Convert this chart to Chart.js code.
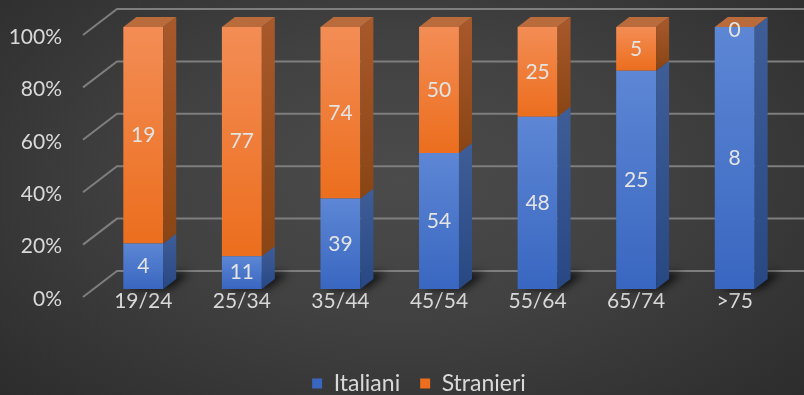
<!DOCTYPE html>
<html><head><meta charset="utf-8">
<script src="https://cdn.jsdelivr.net/npm/chart.js@4/dist/chart.umd.min.js"></script>
<style>
html,body{margin:0;padding:0;}
body{width:804px;height:395px;overflow:hidden;background:radial-gradient(ellipse 70% 80% at 50% 45%, #4b4b4b 0%, #414141 45%, #2c2c2c 100%);}
#wrap{position:relative;width:804px;height:395px;}
</style></head><body>
<div id="wrap"><canvas id="c" width="804" height="395"></canvas></div>
<script>
const categories = ['19/24','25/34','35/44','45/54','55/64','65/74','>75'];
const italiani = [4, 11, 39, 54, 48, 25, 8];
const stranieri = [19, 77, 74, 50, 25, 5, 0];
const yTicks = [0, 20, 40, 60, 80, 100];

const totals = categories.map((_, i) => italiani[i] + stranieri[i]);
const pctIt = italiani.map((v, i) => v / totals[i] * 100);
const pctSt = stranieri.map((v, i) => v / totals[i] * 100);
const counts = [italiani, stranieri];

const DX = 13, DY = 10;       // bar depth
const WX = 34, WY = 26;       // wall depth
const FRONT = 8;              // front plane below bar plane
const LEGEND_SHIFT = 27;
const FONT = 'Lato, "Open Sans", sans-serif';

const FRONT_COL = [['#5d87d5', '#3966c0'], ['#f38d55', '#ec6e1e']];
const SIDE_COL  = [['#3f5e98', '#284884'], ['#a9592b', '#8a4514']];
const TOP_COL   = ['#4a70b8', '#b96b3c'];

function segGrad(ctx, t, b, cols) {
  if (!(b - t > 0.01)) return cols[1];
  const g = ctx.createLinearGradient(0, t, 0, b);
  g.addColorStop(0, cols[0]); g.addColorStop(1, cols[1]); return g;
}
function frontColor(d) {
  return c => {
    const ch = c.chart, y = ch.scales && ch.scales.y;
    if (!y || !ch.chartArea || c.dataIndex === undefined) return FRONT_COL[d][1];
    const i = c.dataIndex;
    const lo = d === 0 ? 0 : pctIt[i], hi = d === 0 ? pctIt[i] : 100;
    return segGrad(ch.ctx, y.getPixelForValue(hi), y.getPixelForValue(lo), FRONT_COL[d]);
  };
}

const threeD = {
  id: 'threeD',
  afterLayout(chart) {
    if (chart.legend) { chart.legend.left += LEGEND_SHIFT; chart.legend.right += LEGEND_SHIFT; }
  },
  beforeDatasetsDraw(chart) {
    const ctx = chart.ctx, y = chart.scales.y;
    ctx.save();
    ctx.strokeStyle = '#7e7e7e'; ctx.lineWidth = 2;
    yTicks.forEach(v => {
      const yb = y.getPixelForValue(v);
      ctx.beginPath();
      ctx.moveTo(83, yb + FRONT);
      ctx.lineTo(83 + WX, yb + FRONT - WY);
      ctx.lineTo(804, yb + FRONT - WY);
      ctx.stroke();
    });
    ctx.restore();
    const meta = chart.getDatasetMeta(0);
    ctx.save();
    ctx.filter = 'blur(4px)';
    ctx.fillStyle = 'rgba(0,0,0,0.75)';
    meta.data.forEach(el => {
      const l = el.x - el.width / 2, r = el.x + el.width / 2, b = el.base;
      ctx.beginPath();
      ctx.moveTo(l + 4, b);
      ctx.lineTo(l + 4 + DX + 10, b - DY - 6);
      ctx.lineTo(r + DX + 14, b - DY - 6);
      ctx.lineTo(r + 6, b);
      ctx.closePath(); ctx.fill();
    });
    ctx.restore();
  },
  afterDatasetsDraw(chart) {
    const ctx = chart.ctx;
    const n = chart.data.labels.length;
    for (let i = 0; i < n; i++) {
      let topEl = null, topDs = 0;
      chart.data.datasets.forEach((ds, d) => {
        const el = chart.getDatasetMeta(d).data[i];
        const r = el.x + el.width / 2, t = Math.min(el.y, el.base), b = Math.max(el.y, el.base);
        if (b - t > 0) {
          ctx.fillStyle = segGrad(ctx, t - DY, b, SIDE_COL[d]);
          ctx.beginPath();
          ctx.moveTo(r, b); ctx.lineTo(r + DX, b - DY); ctx.lineTo(r + DX, t - DY); ctx.lineTo(r, t);
          ctx.closePath(); ctx.fill();
        }
        topEl = el; topDs = d;
      });
      const l = topEl.x - topEl.width / 2, r = topEl.x + topEl.width / 2, t = Math.min(topEl.y, topEl.base);
      ctx.fillStyle = TOP_COL[topDs];
      ctx.beginPath();
      ctx.moveTo(l, t); ctx.lineTo(l + DX, t - DY); ctx.lineTo(r + DX, t - DY); ctx.lineTo(r, t);
      ctx.closePath(); ctx.fill();
    }
    ctx.save();
    ctx.fillStyle = '#e4e4e4';
    ctx.font = '21px ' + FONT;
    ctx.textAlign = 'center'; ctx.textBaseline = 'middle';
    chart.data.datasets.forEach((ds, d) => {
      chart.getDatasetMeta(d).data.forEach((el, i) => {
        const cy = (el.y + el.base) / 2;
        ctx.fillText(String(counts[d][i]), el.x, cy + (el.base - el.y < 4 ? 3 : 0));
      });
    });
    ctx.restore();
  }
};

new Chart(document.getElementById('c'), {
  type: 'bar',
  data: {
    labels: categories,
    datasets: [
      { label: 'Italiani', data: pctIt, backgroundColor: frontColor(0), borderWidth: 0 },
      { label: 'Stranieri', data: pctSt, backgroundColor: frontColor(1), borderWidth: 0 }
    ]
  },
  options: {
    responsive: false, animation: false,
    layout: { padding: { top: 27, right: 20, left: 0, bottom: -10 } },
    datasets: { bar: { categoryPercentage: 1, barPercentage: 0.405 } },
    scales: {
      x: { stacked: true,
        grid: { display: false, drawTicks: false }, border: { display: false },
        ticks: { color: '#d9d9d9', font: { family: FONT, size: 21 }, padding: 0 },
        afterFit(s) { s.height = 63; s.paddingLeft = 0; s.paddingRight = 0; } },
      y: { stacked: true, min: 0, max: 100,
        afterBuildTicks(s) { s.ticks = yTicks.map(v => ({ value: v })); },
        grid: { display: false, drawTicks: false }, border: { display: false },
        ticks: { color: '#d9d9d9', font: { family: FONT, size: 21 }, padding: 32, labelOffset: 10,
          callback: v => v + '%' },
        afterFit(s) { s.width = 94; s.paddingTop = 0; s.paddingBottom = 0; } }
    },
    plugins: {
      legend: { position: 'bottom',
        labels: { color: '#d9d9d9', font: { family: FONT, size: 23 }, boxWidth: 10, boxHeight: 10, padding: 20,
          generateLabels(chart) {
            return chart.data.datasets.map((ds, d) => ({
              text: ds.label, fillStyle: FRONT_COL[d][1], strokeStyle: FRONT_COL[d][1], lineWidth: 0,
              fontColor: '#d9d9d9', datasetIndex: d, hidden: false }));
          } } },
      tooltip: { enabled: false }
    }
  },
  plugins: [threeD]
});
</script>
</body></html>
